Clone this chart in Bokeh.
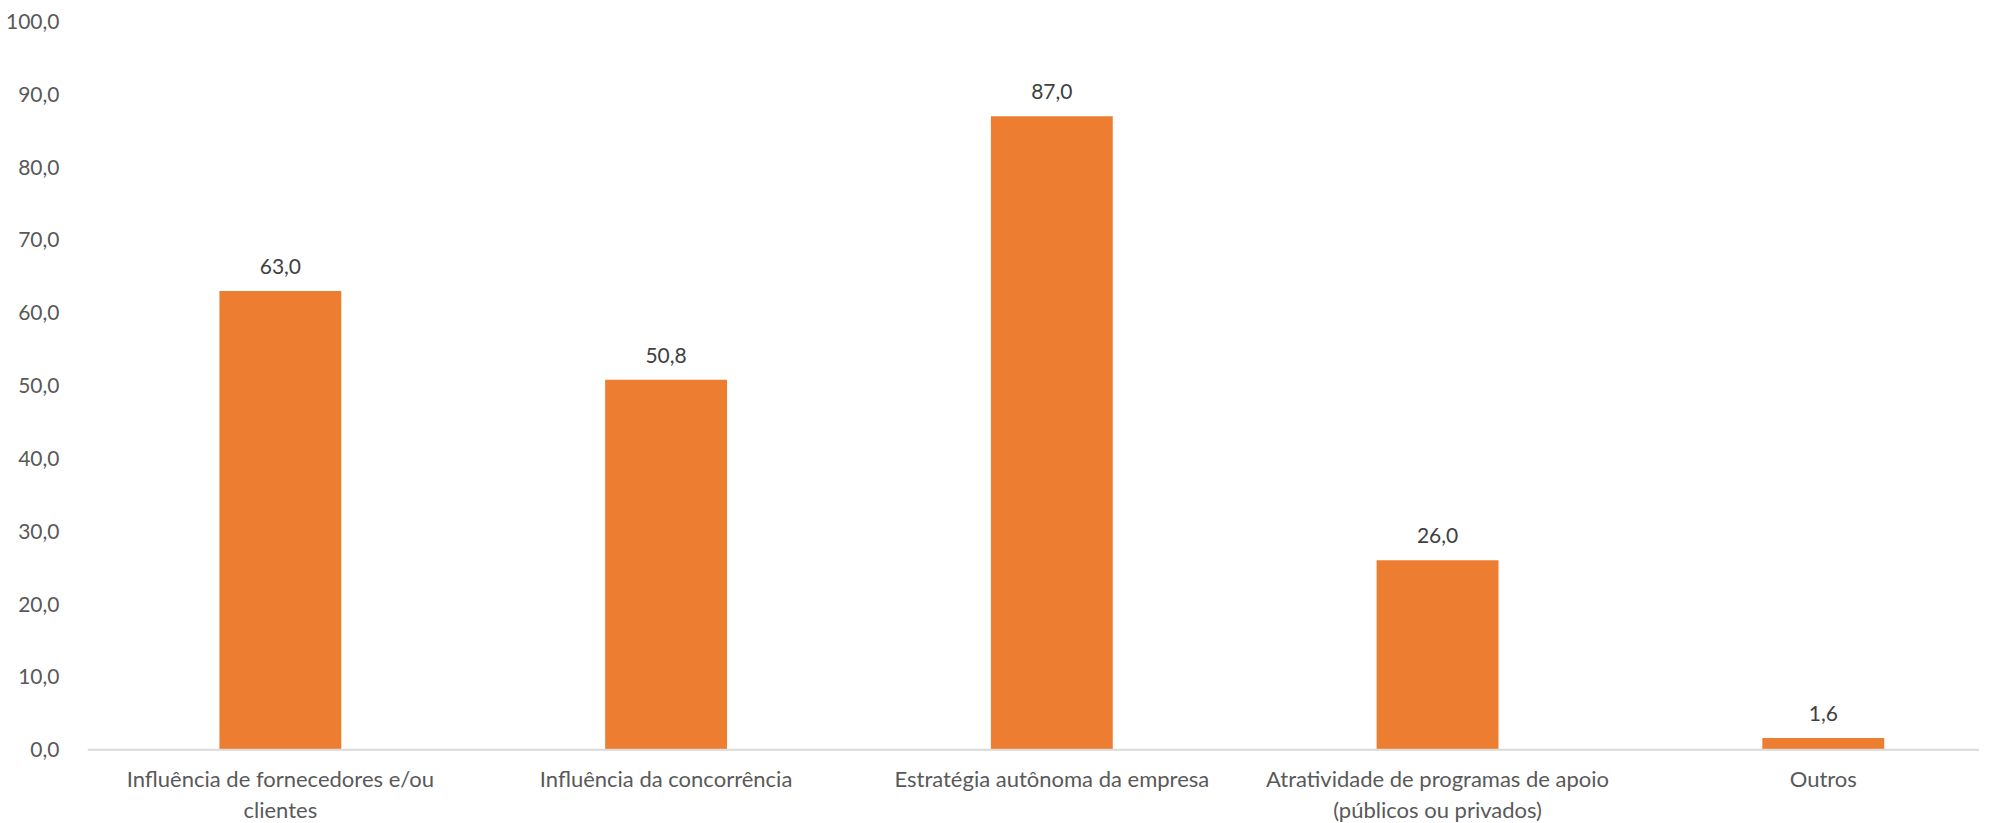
from bokeh.plotting import figure
from bokeh.models import ColumnDataSource, Range1d, FixedTicker, Span
from bokeh.core.properties import value
from bokeh.embed import file_html
from bokeh.resources import INLINE

categories = [
    "Influência de fornecedores e/ou\nclientes",
    "Influência da concorrência",
    "Estratégia autônoma da empresa",
    "Atratividade de programas de apoio\n(públicos ou privados)",
    "Outros",
]
values = [63.0, 50.8, 87.0, 26.0, 1.6]
y_ticks = [0, 10, 20, 30, 40, 50, 60, 70, 80, 90, 100]

def fmt(v):
    return f"{v:.1f}".replace(".", ",")

xs = list(range(len(categories)))
src = ColumnDataSource(dict(x=xs, top=values, label=[fmt(v) for v in values],
                            cat=categories, base=[0] * len(xs)))

FONT = "Lato"

p = figure(width=1979, height=822, output_backend="svg", toolbar_location=None,
           x_range=Range1d(-0.5, 4.405), y_range=Range1d(-10.0, 100),
           min_border_left=87, min_border_right=0, min_border_top=21, min_border_bottom=0)
p.outline_line_color = None
p.background_fill_color = "white"
p.border_fill_color = "white"
p.xgrid.visible = False
p.ygrid.visible = False
p.xaxis.visible = False

p.vbar(x="x", top="top", width=0.316, bottom=0, source=src,
       fill_color="#ED7D31", line_color=None)

# category axis line
p.add_layout(Span(location=0, dimension="width", line_color="#D9D9D9", line_width=2))

# value labels
p.text(x="x", y="top", text="label", source=src, text_align="center",
       text_baseline="bottom", y_offset=-17, text_font=value(FONT),
       text_font_size="21px", text_color="#404040")

# category labels
p.text(x="x", y="base", text="cat", source=src, text_align="center",
       text_baseline="top", y_offset=15, text_font=value(FONT),
       text_font_size="22px", text_color="#595959", text_line_height=1.15)

ya = p.yaxis[0]
ya.ticker = FixedTicker(ticks=y_ticks)
ya.major_label_overrides = {t: fmt(t) for t in y_ticks}
ya.axis_line_color = None
ya.major_tick_line_color = None
ya.minor_tick_line_color = None
ya.major_label_text_font = FONT
ya.major_label_text_font_size = "21px"
ya.major_label_text_color = "#595959"
ya.major_label_standoff = 22

open("out.html", "w").write(file_html(p, INLINE))
